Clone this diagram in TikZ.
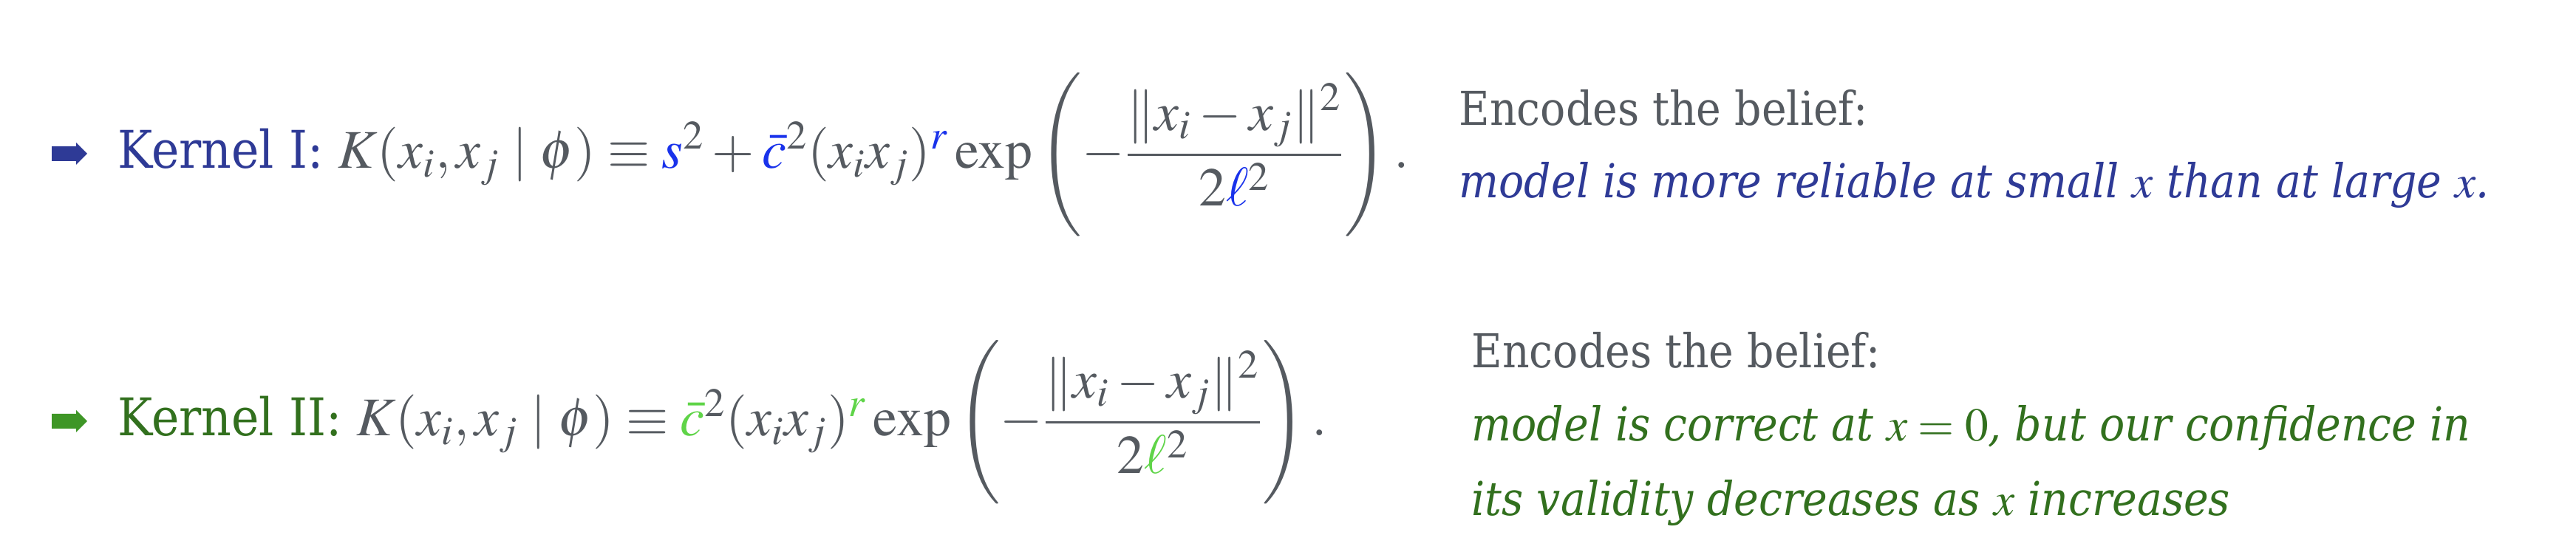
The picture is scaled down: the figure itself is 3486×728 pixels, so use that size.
\documentclass[tikz,border=0pt]{standalone}
\usepackage{amsmath}
\usepackage{mathptmx}
\usepackage[no-math]{fontspec}
\setmainfont{DejaVu Serif Condensed}
\definecolor{navy}{RGB}{46,58,150}
\definecolor{brightblue}{RGB}{25,50,235}
\definecolor{darkgreen}{RGB}{50,112,30}
\definecolor{midgreen}{RGB}{62,150,38}
\definecolor{brightgreen}{RGB}{95,212,72}
\definecolor{slate}{RGB}{85,90,96}
\newcommand{\pointer}[1]{
  \fill[#1] (0, -10) -- (33, -10) -- (33, -15) -- (48, 0) -- (33, 15) -- (33, 10) -- (0, 10) -- cycle;
}
\newcommand{\bigpar}{\vrule height 36pt depth 26pt width 0pt}
\newcommand{\mathsize}{\fontsize{21}{25}\selectfont}

\begin{document}
\begin{tikzpicture}[x = 0.1mm, y = 0.1mm, line cap = round, line join = round,
  every node/.style = {inner sep = 0pt, text = slate, font = \fontsize{18}{22}\selectfont},
  kernel/.style = {anchor = base west, font = \fontsize{20}{24}\selectfont},
  encodes/.style = {anchor = base west},
  belief/.style = {anchor = base west, font = \fontsize{18}{22}\selectfont\itshape}]
  \useasboundingbox (0, 0) rectangle (3486, 728);

  \pointer{navy, shift = {(70, 520)}}
  \pointer{midgreen, shift = {(70, 158)}}

  \node[kernel] (kone) at (159, 500) {\textcolor{navy}{Kernel I:}
    {\mathsize$K(x_i, x_j \mid \phi) \equiv \textcolor{brightblue}{s}^2 + \textcolor{brightblue}{\bar{c}}^2 (x_i x_j)^{\textcolor{brightblue}{r}} \exp \left(\bigpar - \dfrac{\|x_i - x_j\|^2}{2 \textcolor{brightblue}{\ell}^2} \right).$}};
  \node[kernel] (ktwo) at (159, 138) {\textcolor{darkgreen}{Kernel II:}
    {\mathsize$K(x_i, x_j \mid \phi) \equiv \textcolor{brightgreen}{\bar{c}}^2 (x_i x_j)^{\textcolor{brightgreen}{r}} \exp \left(\bigpar - \dfrac{\|x_i - x_j\|^2}{2 \textcolor{brightgreen}{\ell}^2} \right).$}};

  \node[encodes] (encone) at (1974, 558) {Encodes the belief:};
  \node[belief, text = navy] (belone) at (1974, 460) {model is more reliable at small $x$ than at large $x$.};

  \node[encodes] (enctwo) at (1991, 230) {Encodes the belief:};
  \node[belief, text = darkgreen] (beltwo) at (1991, 131) {model is correct at $x = 0$, but our confidence in};
  \node[belief, text = darkgreen] (belthree) at (1991, 30) {its validity decreases as $x$ increases};
\end{tikzpicture}
\end{document}
